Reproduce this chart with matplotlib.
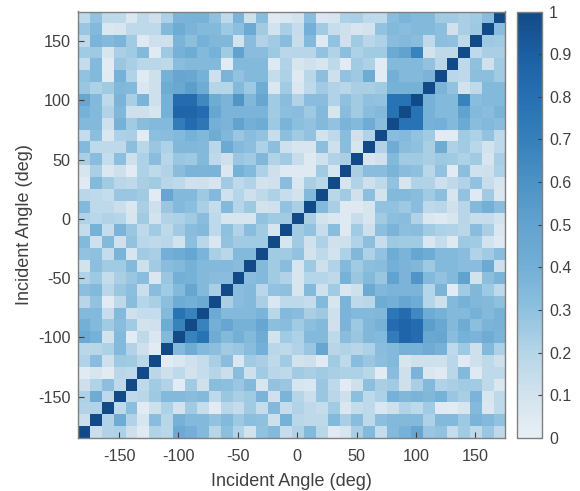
import numpy as np
import matplotlib
matplotlib.use("Agg")
import matplotlib.pyplot as plt
from matplotlib.colors import LinearSegmentedColormap

plt.rcParams['font.family'] = ['Liberation Sans', 'DejaVu Sans']
plt.rcParams['axes.unicode_minus'] = False

angles = np.arange(-180, 180, 10)
tick_angles = [-150, -100, -50, 0, 50, 100, 150]
cbar_ticks = [0, 0.1, 0.2, 0.3, 0.4, 0.5, 0.6, 0.7, 0.8, 0.9, 1]
cbar_labels = ['0', '0.1', '0.2', '0.3', '0.4', '0.5', '0.6', '0.7', '0.8', '0.9', '1']

# one row per incident angle, top (170) to bottom, left of the diagonal only
# the matrix is symmetric about the diagonal so the rest gets mirrored below
rows = [
    [.17,.29,.17,.17,.06,.17,.12,.22,.37,.38,.38,.30,.17,.37,.12,.32,.05,.06,.10,.32,.06,.08,.22,.23,.17,.17,.32,.37,.34,.34,.25,.25,.23,.25,.32],
    [.27,.34,.06,.08,.17,.17,.17,.34,.42,.37,.34,.34,.26,.31,.44,.25,.10,.23,.15,.40,.25,.14,.12,.08,.10,.29,.34,.32,.34,.34,.31,.11,.23,.26],
    [.17,.37,.34,.37,.25,.05,.12,.12,.37,.31,.39,.35,.35,.10,.32,.21,.25,.32,.14,.34,.05,.29,.11,.25,.18,.22,.32,.34,.32,.17,.31,.30,.17],
    [.25,.26,.08,.23,.25,.34,.04,.26,.39,.42,.34,.39,.25,.50,.32,.32,.26,.18,.19,.19,.29,.21,.31,.22,.25,.25,.44,.50,.68,.10,.17,.17],
    [.15,.34,.03,.27,.23,.18,.18,.17,.32,.34,.34,.34,.03,.34,.34,.34,.05,.21,.08,.11,.08,.17,.03,.25,.22,.03,.34,.34,.34,.29,.18],
    [.29,.34,.04,.39,.21,.04,.12,.39,.47,.45,.39,.12,.37,.29,.34,.34,.15,.22,.05,.18,.31,.12,.29,.26,.42,.03,.40,.34,.34,.37],
    [.27,.22,.25,.35,.34,.06,.12,.42,.45,.52,.42,.20,.20,.34,.26,.42,.06,.25,.06,.17,.25,.21,.18,.23,.23,.25,.39,.39,.39],
    [.47,.34,.17,.37,.23,.37,.12,.39,.82,.82,.65,.42,.37,.58,.35,.47,.25,.32,.21,.32,.32,.21,.30,.25,.30,.29,.78,.78],
    [.39,.34,.21,.35,.12,.12,.08,.39,.86,.86,.82,.47,.37,.37,.37,.37,.25,.31,.32,.26,.34,.08,.32,.25,.32,.34,.78],
    [.34,.34,.12,.39,.25,.32,.34,.34,.72,.82,.75,.40,.37,.50,.40,.42,.26,.37,.31,.29,.34,.29,.37,.34,.42,.32],
    [.15,.31,.06,.22,.23,.03,.31,.32,.34,.39,.35,.42,.35,.27,.32,.29,.14,.31,.25,.29,.10,.17,.32,.11,.21],
    [.34,.17,.17,.17,.31,.18,.27,.22,.35,.35,.34,.18,.44,.34,.31,.22,.31,.12,.08,.08,.31,.12,.32,.08],
    [.23,.32,.15,.31,.12,.22,.32,.19,.27,.26,.34,.17,.12,.27,.25,.35,.21,.25,.14,.05,.11,.21,.23],
    [.08,.23,.06,.12,.03,.22,.17,.21,.32,.37,.37,.37,.06,.39,.34,.22,.12,.05,.05,.05,.25,.08],
    [.04,.34,.25,.18,.17,.23,.25,.19,.17,.11,.12,.08,.25,.17,.21,.10,.11,.32,.06,.23,.18],
    [.18,.17,.15,.27,.27,.25,.03,.47,.34,.34,.26,.34,.11,.20,.12,.17,.22,.14,.10,.34],
    [.34,.17,.17,.13,.06,.23,.12,.27,.34,.31,.23,.15,.34,.20,.26,.10,.11,.29,.23],
    [.21,.18,.21,.20,.08,.25,.10,.21,.22,.25,.32,.17,.08,.08,.08,.29,.25,.25],
    [.15,.39,.15,.37,.27,.17,.25,.17,.25,.32,.34,.17,.30,.21,.32,.25,.08],
    [.34,.12,.34,.11,.29,.18,.17,.18,.10,.31,.18,.06,.29,.25,.25,.25],
    [.29,.30,.15,.37,.08,.25,.23,.40,.42,.47,.37,.23,.18,.34,.34],
    [.10,.31,.25,.25,.34,.12,.25,.32,.34,.39,.34,.34,.34,.32],
    [.21,.26,.15,.23,.27,.32,.06,.27,.40,.39,.34,.32,.32],
    [.31,.34,.18,.27,.31,.13,.32,.25,.34,.47,.34,.23],
    [.19,.29,.03,.17,.32,.20,.23,.31,.42,.40,.44],
    [.34,.34,.14,.34,.11,.15,.15,.34,.78,.68],
    [.40,.34,.25,.32,.25,.10,.11,.42,.68],
    [.44,.39,.10,.34,.03,.17,.06,.34],
    [.18,.19,.22,.34,.21,.12,.03],
    [.21,.32,.12,.26,.25,.18],
    [.04,.08,.03,.18,.17],
    [.12,.21,.31,.17],
    [.22,.42,.17],
    [.21,.21],
    [.13],
    [],
]

n = len(angles)
corr = np.ones((n, n))
for r, vals in enumerate(rows):
    for c, v in enumerate(vals):
        corr[r, c] = v
        corr[n - 1 - c, n - 1 - r] = v

cmap = LinearSegmentedColormap.from_list("soft_blues", [
    (0.0, "#e8eff5"), (0.1, "#d3e3ee"), (0.2, "#b5d5e8"), (0.3, "#8fc1df"),
    (0.4, "#73afd6"), (0.5, "#62a3cf"), (0.6, "#4c92c5"), (0.7, "#3580bb"),
    (0.8, "#2670b2"), (0.9, "#1c5fa3"), (1.0, "#124a88")])

text_col = "#404040"
edge_col = "#808080"

fig = plt.figure(figsize=(5.8, 4.91), dpi=100)
ax = fig.add_axes([77.5 / 580, 1 - 438 / 491, 427.5 / 580, 426.5 / 491])
im = ax.imshow(corr, cmap=cmap, vmin=0, vmax=1, aspect='auto', interpolation='nearest',
               extent=[-185, 175, -185, 175])
ax.set_xticks(tick_angles)
ax.set_yticks(tick_angles)
ax.tick_params(direction='in', length=4, width=0.8, colors=text_col, labelsize=11.7)
ax.tick_params(axis='x', pad=8)
ax.tick_params(axis='y', pad=5)
ax.set_xlabel("Incident Angle (deg)", fontsize=13, color=text_col, labelpad=6.5)
ax.set_ylabel("Incident Angle (deg)", fontsize=13, color=text_col, labelpad=3.5)
for s in ax.spines.values():
    s.set_color(edge_col)
    s.set_linewidth(1)

cax = fig.add_axes([517 / 580, 1 - 438 / 491, 25 / 580, 426.5 / 491])
cb = fig.colorbar(im, cax=cax, ticks=cbar_ticks)
cb.ax.set_yticklabels(cbar_labels)
cb.ax.tick_params(direction='in', length=3, width=0.8, colors=text_col, labelsize=11.5, pad=5)
cb.outline.set_edgecolor(edge_col)
cb.outline.set_linewidth(1)

fig.savefig("out.png", dpi=100)
